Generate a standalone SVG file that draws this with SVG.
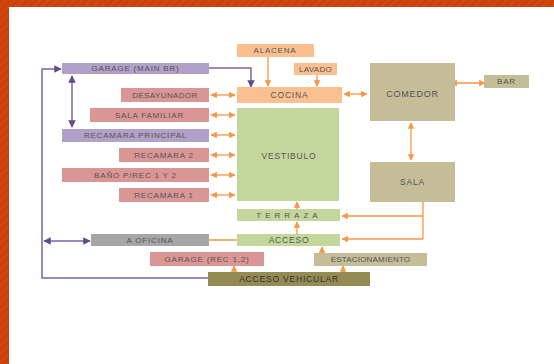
<svg xmlns="http://www.w3.org/2000/svg" width="554" height="364" viewBox="0 0 554 364">
<defs>
<pattern id="stripes" width="6" height="6" patternUnits="userSpaceOnUse" patternTransform="rotate(45)">
<rect width="6" height="6" fill="#d2460e"/>
<rect width="3" height="6" fill="#c93f0b"/>
</pattern>
<marker id="ao" viewBox="0 0 10 10" refX="9" refY="5" markerWidth="5" markerHeight="5" orient="auto-start-reverse">
<path d="M0,0 L10,5 L0,10 z" fill="#f79646"/>
</marker>
<marker id="ap" viewBox="0 0 10 10" refX="9" refY="5" markerWidth="5" markerHeight="5" orient="auto-start-reverse">
<path d="M0,0 L10,5 L0,10 z" fill="#5f4b8b"/>
</marker>
</defs>
<style>
text{font-family:"Liberation Sans","DejaVu Sans",sans-serif;font-size:8px;letter-spacing:0.8px;fill:#555555;text-anchor:middle;dominant-baseline:central}
.pu{fill:#b1a0c7}.pk{fill:#da9694}.pe{fill:#fac090}.gr{fill:#c3d69b}.kh{fill:#c4bd97}.ol{fill:#948a54}.gy{fill:#a6a6a6}
.o{stroke:#f79646;stroke-width:1.3;fill:none}
.od{stroke:#f79646;stroke-width:1.3;fill:none;marker-start:url(#ao);marker-end:url(#ao)}
.oe{stroke:#f79646;stroke-width:1.3;fill:none;marker-end:url(#ao)}
.p{stroke:#7b64a3;stroke-width:1.5;fill:none}
</style>
<rect width="554" height="364" fill="url(#stripes)"/>
<rect x="9" y="7" width="545" height="357" fill="#ffffff"/>

<g id="connectors">
<path class="p" d="M209,68 H251 V87" marker-end="url(#ap)" stroke="#5f4b8b"/>
<path class="p" d="M72,76 V127" marker-start="url(#ap)" marker-end="url(#ap)"/>
<path class="p" d="M208,278 H42 V69 H61" marker-end="url(#ap)"/>
<path class="p" d="M44,241 H90" marker-start="url(#ap)" marker-end="url(#ap)"/>
<path class="od" d="M211,95 H235"/>
<path class="od" d="M211,115 H235"/>
<path class="od" d="M211,135 H235"/>
<path class="od" d="M211,155 H235"/>
<path class="od" d="M211,175 H235"/>
<path class="od" d="M211,195 H235"/>
<path class="oe" d="M268,57 V86"/>
<path class="oe" d="M317,75 V86"/>
<path class="od" d="M344,94 H367"/>
<path class="od" d="M451,83 H485"/>
<path class="od" d="M411,123 V160"/>
<path class="o" d="M423,202 V239"/>
<path class="oe" d="M423,216 H342"/>
<path class="oe" d="M423,239 H342"/>
<path class="oe" d="M297,234 V222"/>
<path class="oe" d="M297,209 V202"/>
<path class="oe" d="M237,240 H196"/>
<path class="oe" d="M322,253 V247"/>
<path class="oe" d="M234,272 V266"/>
<path class="oe" d="M343,272 V266"/>
</g>

<g id="alacena"><rect class="pe" x="237" y="44" width="77" height="13"/><text x="275" y="50.5">ALACENA</text></g>
<g id="lavado"><rect class="pe" x="294" y="63" width="43" height="12"/><text x="315.5" y="69" style="letter-spacing:0.3px">LAVADO</text></g>
<g id="cocina"><rect class="pe" x="237" y="87" width="105" height="16"/><text x="289.5" y="95" style="font-size:8.5px">COCINA</text></g>
<g id="vestibulo"><rect class="gr" x="237" y="108" width="102" height="93"/><text x="289" y="156" style="font-size:8.5px">VESTIBULO</text></g>
<g id="terraza"><rect class="gr" x="237" y="209" width="103" height="12"/><text x="289" y="215" style="letter-spacing:4px">TERRAZA</text></g>
<g id="acceso"><rect class="gr" x="237" y="234" width="103" height="12"/><text x="289" y="240" style="font-size:8.5px">ACCESO</text></g>
<g id="comedor"><rect class="kh" x="370" y="63" width="85" height="58"/><text x="412.5" y="94" style="font-size:9px">COMEDOR</text></g>
<g id="bar"><rect class="kh" x="484" y="75" width="45" height="13"/><text x="506.5" y="81.5">BAR</text></g>
<g id="sala"><rect class="kh" x="370" y="162" width="85" height="40"/><text x="412.5" y="182" style="font-size:8.5px">SALA</text></g>
<g id="garage-main"><rect class="pu" x="62" y="63" width="147" height="11"/><text x="135.5" y="68.5">GARAGE (MAIN BR)</text></g>
<g id="desayunador"><rect class="pk" x="121" y="88" width="88" height="14"/><text x="165" y="95" style="letter-spacing:0.4px">DESAYUNADOR</text></g>
<g id="sala-familiar"><rect class="pk" x="90" y="108" width="119" height="14"/><text x="149.5" y="115">SALA FAMILIAR</text></g>
<g id="recamara-principal"><rect class="pu" x="62" y="129" width="147" height="13"/><text x="135.5" y="135.5">RECAMARA PRINCIPAL</text></g>
<g id="recamara-2"><rect class="pk" x="119" y="148" width="90" height="14"/><text x="164" y="155">RECAMARA 2</text></g>
<g id="bano"><rect class="pk" x="62" y="168" width="147" height="14"/><text x="135.5" y="175">BAÑO P/REC 1 Y 2</text></g>
<g id="recamara-1"><rect class="pk" x="119" y="188" width="90" height="14"/><text x="164" y="195">RECAMARA 1</text></g>
<g id="a-oficina"><rect class="gy" x="91" y="234" width="118" height="12"/><text x="150" y="240">A OFICINA</text></g>
<g id="garage-rec"><rect class="pk" x="150" y="252" width="114" height="14"/><text x="207" y="259">GARAGE (REC 1,2)</text></g>
<g id="estacionamiento"><rect class="kh" x="314" y="253" width="113" height="13"/><text x="370.5" y="259.5" style="letter-spacing:0.2px">ESTACIONAMIENTO</text></g>
<g id="acceso-vehicular"><rect class="ol" x="208" y="272" width="162" height="14"/><text x="289" y="279" style="fill:#333333;font-size:8.5px">ACCESO VEHICULAR</text></g>
</svg>
